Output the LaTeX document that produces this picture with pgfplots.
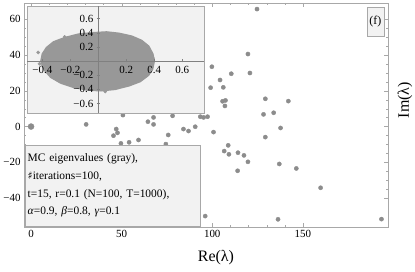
\documentclass[border=0pt]{standalone}
\usepackage{fontspec}
\setmainfont{Liberation Serif}
\newfontfamily\djv{DejaVu Serif}
\usepackage{pgfplots}
\pgfplotsset{compat=1.18}
\definecolor{ptgray}{HTML}{8C8C8C}
\definecolor{cloudgray}{HTML}{989898}
\definecolor{boxbg}{HTML}{F2F2F2}
\definecolor{framegray}{HTML}{A8A8A8}
\begin{document}
\begin{tikzpicture}[x=1bp,y=1bp]
\useasboundingbox (-24bp,-45bp) rectangle (391bp,227bp);
\begin{axis}[scale only axis, width=364bp, height=224bp, at={(0bp,0bp)}, anchor=south west,
 xmin=-3.9, xmax=197, ymin=-56.1, ymax=69,
 axis line style={framegray}, tick style={framegray}, tick align=inside,
 major tick length=4bp, minor tick length=2.2bp,
 xtick={0,50,100,150}, xticklabels={0,50,100,150}, minor x tick num=4,
 ytick={-40,-20,0,20,40,60}, yticklabels={−40,−20,0,20,40,60}, minor y tick num=3,
 tick label style={font=\fontsize{11}{13}\selectfont, black},
 clip=true]
\addplot[only marks, mark=*, mark size=2.1bp, color=ptgray] table {
x y
124.7 65.6
119.7 40.5
99.8 33.4
110.5 29.5
120.8 29.9
104.3 26.0
99.1 21.7
106.1 21.9
129.3 15.5
142.0 14.2
105.7 14.1
107.3 14.6
107.0 11.5
128.3 6.8
133.9 7.7
95.2 5.1
97.4 5.5
93.4 5.5
137.7 -0.8
100.7 -3.1
129.3 -5.9
108.8 -10.5
106.6 -13.7
109.2 -15.5
114.2 -14.6
117.5 -16.1
119.7 -19.7
137.0 -20.9
146.4 -23.4
114.0 -24.7
159.8 -34.2
96.1 -50.0
136.3 -51.8
193.4 -51.7
30.4 1.2
50.7 6.4
47.0 -1.4
47.7 -3.5
45.5 -5.1
64.5 2.7
67.6 5.1
67.6 1.2
78.1 6.0
54.1 -8.8
59.3 -7.5
75.7 -4.7
84.1 -1.4
86.9 -2.5
90.6 -0.1
49.6 -9.4
74.4 -9.8
};
\addplot[only marks, mark=*, mark size=3bp, color=ptgray] coordinates {(0,0)};
\end{axis}
\begin{axis}[scale only axis, at={(74.3bp,166bp)}, anchor=origin, width=177bp, height=107bp,
 xmin=-0.51, xmax=0.755, ymin=-0.73, ymax=0.78,
 axis lines=middle, axis line style={-, gray}, axis on top,
 axis background/.style={fill=boxbg, draw=framegray},
 xtick={-0.4,-0.2,0.2,0.4,0.6}, xticklabels={−0.4,−0.2,0.2,0.4,0.6},
 ytick={-0.6,-0.4,-0.2,0.2,0.4,0.6}, yticklabels={−0.6,−0.4,−0.2,0.2,0.4,0.6},
 minor x tick num=3, minor y tick num=3,
 tick style={gray}, major tick length=3bp, minor tick length=1.5bp,
 tick label style={font=\fontsize{11}{13}\selectfont, black},
 clip=true]
\addplot[fill=cloudgray, draw=cloudgray, line width=1.5bp] coordinates {
(-0.41,0.00) (-0.40,0.10) (-0.37,0.19) (-0.32,0.27) (-0.24,0.33) (-0.14,0.38)
(-0.03,0.40) (0.06,0.41) (0.15,0.39) (0.24,0.35) (0.31,0.29) (0.36,0.21)
(0.39,0.10) (0.40,0.00) (0.39,-0.10) (0.36,-0.20) (0.30,-0.29) (0.22,-0.35)
(0.12,-0.40) (0.02,-0.42) (-0.08,-0.41) (-0.18,-0.37) (-0.27,-0.31) (-0.34,-0.23)
(-0.38,-0.14) (-0.40,-0.06) (-0.41,0.00)
};
\addplot[only marks, mark=*, mark size=1.6bp, color=cloudgray] coordinates {
(-0.43,0.12) (-0.24,0.34) (0.39,0.04) (0.05,-0.43) (0.38,-0.12) (-0.42,-0.04)
};
\end{axis}
\node[draw=framegray, fill=boxbg, anchor=south west, minimum height=81bp, text width=170bp, inner xsep=2.5bp, inner ysep=2bp, align=left, font=\fontsize{11.5}{18}\selectfont] at (1bp,1bp)
{MC eigenvalues (gray),\\
{\djv\fontsize{10.5}{18}\selectfont ♯}iterations=100,\\
t=15, r=0.1 (N=100, T=1000),\\
\textit{α}=0.9, \textit{β}=0.8, \textit{γ}=0.1};
\node[draw=framegray, fill=boxbg, minimum width=17bp, minimum height=29bp, inner sep=1bp, font=\fontsize{12}{14}\selectfont] at (351.3bp,205.5bp) {(f)};
\node[font=\fontsize{16}{18}\selectfont] at (192bp,-31bp) {Re(λ)};
\node[rotate=90, font=\fontsize{16}{18}\selectfont] at (381bp,127bp) {Im(λ)};
\end{tikzpicture}
\end{document}
